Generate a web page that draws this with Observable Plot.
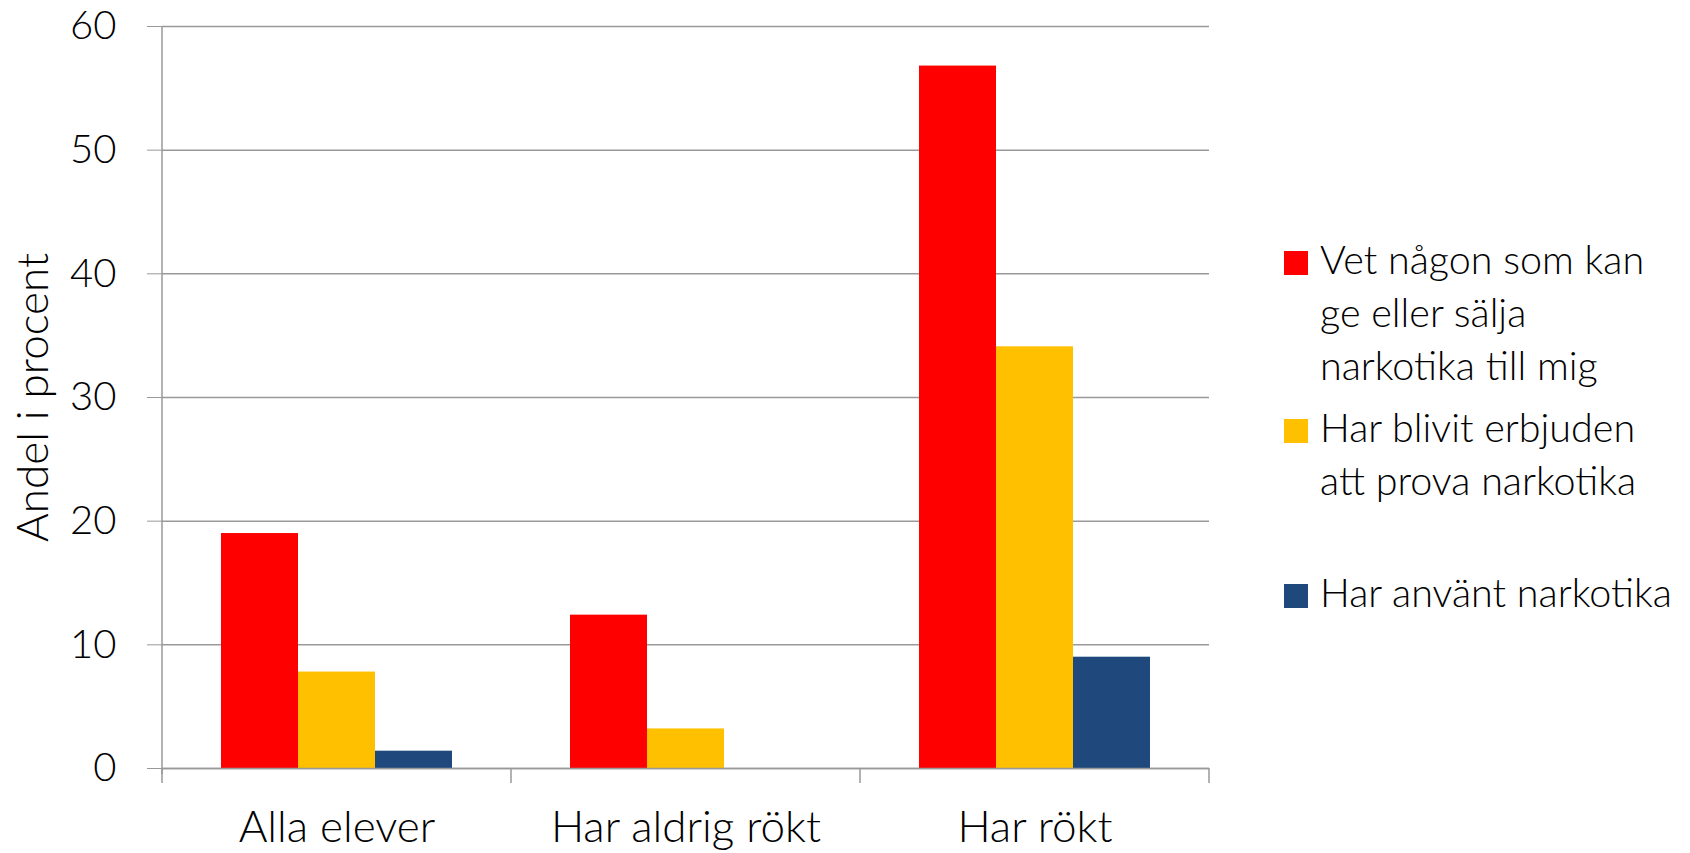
<!DOCTYPE html>
<html><head><meta charset="utf-8">
<script src="https://cdn.jsdelivr.net/npm/d3@7"></script>
<script src="https://cdn.jsdelivr.net/npm/@observablehq/plot@0.6"></script>
<style>
body{margin:0;background:#fff;}
#chart{position:relative;width:1690px;height:853px;font-family:Lato,sans-serif;font-weight:300;}
#chart svg text{font-weight:300;}
.legend-item{position:absolute;left:1284px;display:flex;align-items:flex-start;}
.swatch{width:24px;height:24px;margin-top:19px;margin-right:12px;flex:none}
.label{font-size:39.5px;line-height:53px;white-space:pre-line;color:#000}
</style></head><body><div id="chart"></div>
<script>
const categories = ["Alla elever", "Har aldrig rökt", "Har rökt"];
const series = [
  "Vet någon som kan ge eller sälja narkotika till mig",
  "Har blivit erbjuden att prova narkotika",
  "Har använt narkotika"
];
const seriesLegendText = [
  "Vet någon som kan\nge eller sälja\nnarkotika till mig",
  "Har blivit erbjuden\natt prova narkotika",
  "Har använt narkotika"
];
const vetNagon = [19.0, 12.4, 56.8];
const erbjuden = [7.8, 3.2, 34.1];
const anvant = [1.4, 0, 9.0];
const colors = ["#ff0000", "#ffc000", "#1f497d"];
const yTicks = [0, 10, 20, 30, 40, 50, 60];
const yLabel = "Andel i procent";

const valuesBySeries = [vetNagon, erbjuden, anvant];
const data = categories.flatMap((c, i) =>
  series.map((s, j) => ({category: c, series: s, value: valuesBySeries[j][i]})));

const plot = Plot.plot({
  width: 1690, height: 853,
  marginLeft: 161, marginRight: 481, marginTop: 26, marginBottom: 85,
  style: {fontFamily: "Lato, sans-serif", fontSize: "38px", fontWeight: 300, color: "#000", background: "white"},
  fx: {domain: categories, padding: 0, label: null},
  x: {domain: series, paddingInner: 0, paddingOuter: 0.75, align: 0.5, axis: null},
  y: {domain: [0, 60], label: yLabel},
  color: {domain: series, range: colors},
  marks: [
    Plot.gridY(yTicks, {stroke: "#999", strokeOpacity: 1, strokeWidth: 1.5}),
    Plot.barY(data, {fx: "category", x: "series", y: "value", fill: "series"}),
    Plot.ruleY([0], {stroke: "#999", strokeWidth: 1.5}),
    Plot.axisY(yTicks, {tickSize: 15, tickPadding: 31, stroke: "#999", fill: "#000", fontSize: 40, label: null}),
    Plot.axisY({ticks: [], tickSize: 0, fill: "#000", fontSize: 44,
      label: yLabel, labelAnchor: "center", labelOffset: 146, labelArrow: "none"}),
    Plot.axisFx({anchor: "bottom", tickSize: 0, tickPadding: 42, fontSize: 44, label: null, fill: "#000"})
  ]
});

const fx = plot.scale("fx");
const y = plot.scale("y");
const edges = categories.map(c => fx.apply(c));
edges.push(edges[edges.length - 1] + fx.bandwidth);
const svg = d3.select(plot);
const g = svg.append("g").attr("stroke", "#999").attr("stroke-width", 1.5);
g.selectAll("line.tick").data(edges).join("line")
  .attr("x1", d => d).attr("x2", d => d)
  .attr("y1", y.apply(0)).attr("y2", y.apply(0) + 15);
g.append("line")
  .attr("x1", edges[0]).attr("x2", edges[0])
  .attr("y1", y.apply(60)).attr("y2", y.apply(0) + 6);

const chart = document.getElementById("chart");
chart.appendChild(plot);
const tops = [232, 400, 565];
series.forEach((s, i) => {
  const item = document.createElement("div");
  item.className = "legend-item";
  item.style.top = tops[i] + "px";
  const sw = document.createElement("div");
  sw.className = "swatch";
  sw.style.background = colors[i];
  const lab = document.createElement("div");
  lab.className = "label";
  lab.textContent = seriesLegendText[i];
  item.appendChild(sw); item.appendChild(lab);
  chart.appendChild(item);
});
</script>
</body></html>
